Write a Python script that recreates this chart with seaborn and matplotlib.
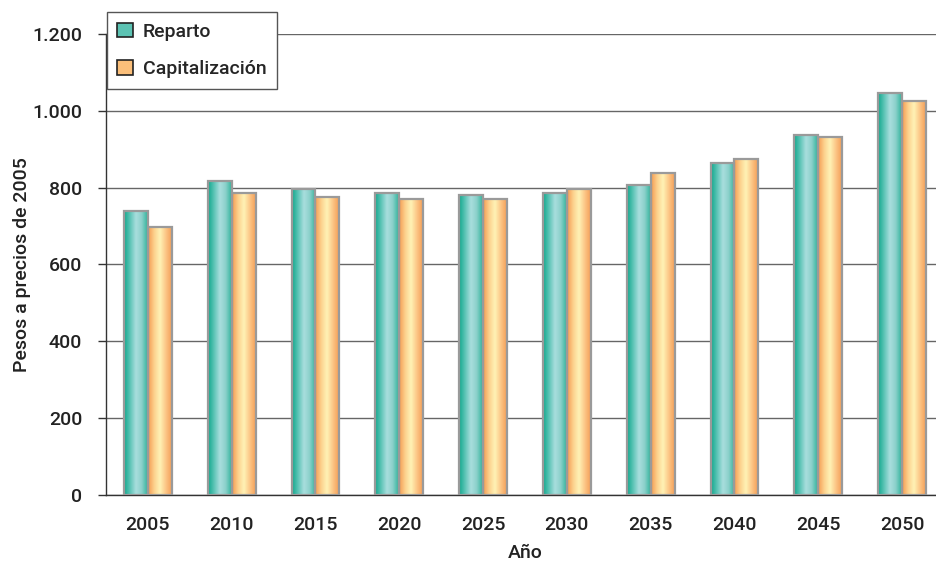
import numpy as np
import pandas as pd
import matplotlib.pyplot as plt
import seaborn as sns
from matplotlib.colors import LinearSegmentedColormap
from matplotlib.patches import Patch
from matplotlib.ticker import FuncFormatter, MultipleLocator

# datos
years = ["2005", "2010", "2015", "2020", "2025", "2030", "2035", "2040", "2045", "2050"]
reparto = [740, 817, 796, 786, 781, 786, 807, 864, 937, 1046]
capitalizacion = [698, 786, 776, 770, 770, 796, 838, 875, 932, 1025]
series = ["Reparto", "Capitalización"]

df = pd.DataFrame({
    "year": years * 2,
    "serie": [series[0]] * len(years) + [series[1]] * len(years),
    "value": reparto + capitalizacion,
})

sns.set_style("white")
plt.rcParams["font.family"] = ["Roboto", "DejaVu Sans"]
plt.rcParams["font.weight"] = "medium"
plt.rcParams["axes.labelweight"] = "medium"

teal = LinearSegmentedColormap.from_list("teal", ["#12a98e", "#5cc4b6", "#aadede", "#8ad0ca", "#2fb49b"])
orange = LinearSegmentedColormap.from_list("orange", ["#f59c52", "#fcd08c", "#fff3b6", "#fcc686", "#f49f58"])

fig = plt.figure(figsize=(9.36, 5.63), dpi=100)
ax = fig.add_axes([0.1132, 0.1208, 0.8953, 0.8188])

# gridlines behind the bars
ax.set_axisbelow(True)
ax.yaxis.grid(True, color="#666666", linewidth=1)

sns.barplot(data=df, x="year", y="value", hue="serie", palette=["#7fcfc4", "#fbc47f"],
            width=0.57, legend=False, ax=ax, zorder=2)

grad = np.linspace(0, 1, 64).reshape(1, -1)
n = len(years)
for i, p in enumerate([p for p in ax.patches if p.get_height() > 0]):
    x, w, h = p.get_x(), p.get_width(), p.get_height()
    cmap = teal if i < n else orange
    ax.imshow(grad, cmap=cmap, extent=[x, x + w, 0, h], aspect="auto", zorder=2.5,
              interpolation="bicubic")
    p.set_facecolor("none")
    p.set_edgecolor("#9a9a9a")
    p.set_linewidth(1.6)
    p.set_zorder(3)

ax.set_xlim(-0.5, 9.5)
ax.set_ylim(0, 1200)
ax.yaxis.set_major_locator(MultipleLocator(200))
ax.yaxis.set_major_formatter(FuncFormatter(lambda v, _: f"{int(v):,}".replace(",", ".")))

ax.set_xticks(range(n))
ax.set_xticklabels(years)
ax.set_xticks(np.arange(-0.5, n, 1), minor=True)
ax.tick_params(axis="x", which="major", length=0, pad=15, labelsize=14, labelcolor="#222222")
ax.tick_params(axis="x", which="minor", length=6, width=1, color="#333333", direction="out")
ax.tick_params(axis="y", length=6, width=1, color="#333333", direction="out", pad=11,
               labelsize=14, labelcolor="#222222", left=True)

for s in ["top", "right"]:
    ax.spines[s].set_visible(False)
for s in ["left", "bottom"]:
    ax.spines[s].set_color("#333333")
    ax.spines[s].set_linewidth(1)

ax.set_xlabel("Año", fontsize=14, color="#222222", labelpad=7)
ax.set_ylabel("Pesos a precios de 2005", fontsize=14, color="#222222", labelpad=1)

handles = [Patch(facecolor="#5cc3b3", edgecolor="#222222", linewidth=1.2),
           Patch(facecolor="#fbbf7a", edgecolor="#222222", linewidth=1.2)]
leg = ax.legend(handles, series, loc="upper left", bbox_to_anchor=(0.001, 1.048),
                borderaxespad=0, fancybox=False, framealpha=1, edgecolor="#555555",
                fontsize=14, handlelength=0.8, handleheight=0.8, handletextpad=0.5,
                labelspacing=1.0, borderpad=0.55)
leg.get_frame().set_linewidth(1)
leg.set_zorder(5)

fig.savefig("out.png", dpi=100)
